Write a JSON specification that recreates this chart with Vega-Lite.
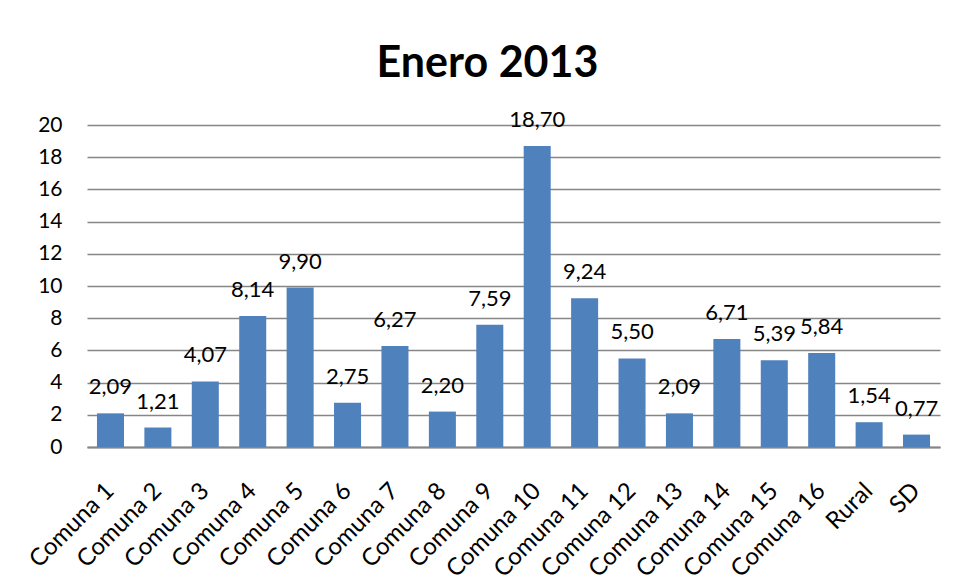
{
  "$schema": "https://vega.github.io/schema/vega-lite/v6.json",
  "width": 853,
  "height": 322,
  "autosize": {"type": "none"},
  "padding": {"left": 87, "top": 125, "right": 17, "bottom": 135},
  "background": "white",
  "config": {
    "locale": {"number": {"decimal": ",", "thousands": ".", "grouping": [3], "currency": ["", ""]}},
    "view": {"stroke": null},
    "font": "Lato"
  },
  "title": {
    "text": "Enero 2013",
    "fontSize": 43,
    "fontWeight": "bold",
    "font": "Lato",
    "color": "black",
    "anchor": "middle",
    "dx": -26,
    "offset": 23
  },
  "data": {
    "values": [
      {"zona": "Comuna 1", "valor": 2.09},
      {"zona": "Comuna 2", "valor": 1.21},
      {"zona": "Comuna 3", "valor": 4.07},
      {"zona": "Comuna 4", "valor": 8.14},
      {"zona": "Comuna 5", "valor": 9.90},
      {"zona": "Comuna 6", "valor": 2.75},
      {"zona": "Comuna 7", "valor": 6.27},
      {"zona": "Comuna 8", "valor": 2.20},
      {"zona": "Comuna 9", "valor": 7.59},
      {"zona": "Comuna 10", "valor": 18.70},
      {"zona": "Comuna 11", "valor": 9.24},
      {"zona": "Comuna 12", "valor": 5.50},
      {"zona": "Comuna 13", "valor": 2.09},
      {"zona": "Comuna 14", "valor": 6.71},
      {"zona": "Comuna 15", "valor": 5.39},
      {"zona": "Comuna 16", "valor": 5.84},
      {"zona": "Rural", "valor": 1.54},
      {"zona": "SD", "valor": 0.77}
    ]
  },
  "encoding": {
    "x": {
      "field": "zona",
      "type": "nominal",
      "sort": null,
      "scale": {"paddingInner": 0.43, "paddingOuter": 0.21},
      "axis": {
        "title": null,
        "labelAngle": -45,
        "labelAlign": "right",
        "labelBaseline": "middle",
        "labelFontSize": 24,
        "labelColor": "black",
        "labelFont": "Lato",
        "labelPadding": 40,
        "labelOverlap": false,
        "labelBound": false,
        "ticks": false,
        "domainColor": "#868686",
        "domainWidth": 2
      }
    },
    "y": {
      "field": "valor",
      "type": "quantitative",
      "scale": {"domain": [0, 20]},
      "axis": {
        "title": null,
        "values": [0, 2, 4, 6, 8, 10, 12, 14, 16, 18, 20],
        "labelFontSize": 21,
        "labelColor": "black",
        "labelFont": "Lato",
        "labelPadding": 25,
        "ticks": false,
        "domain": false,
        "gridColor": "#868686",
        "gridWidth": 1.5
      }
    }
  },
  "layer": [
    {"mark": {"type": "bar", "color": "#4F81BD"}},
    {
      "mark": {"type": "text", "baseline": "alphabetic", "dy": -19, "fontSize": 22, "color": "black", "font": "Lato"},
      "encoding": {"text": {"field": "valor", "type": "quantitative", "format": ".2f"}}
    }
  ]
}
